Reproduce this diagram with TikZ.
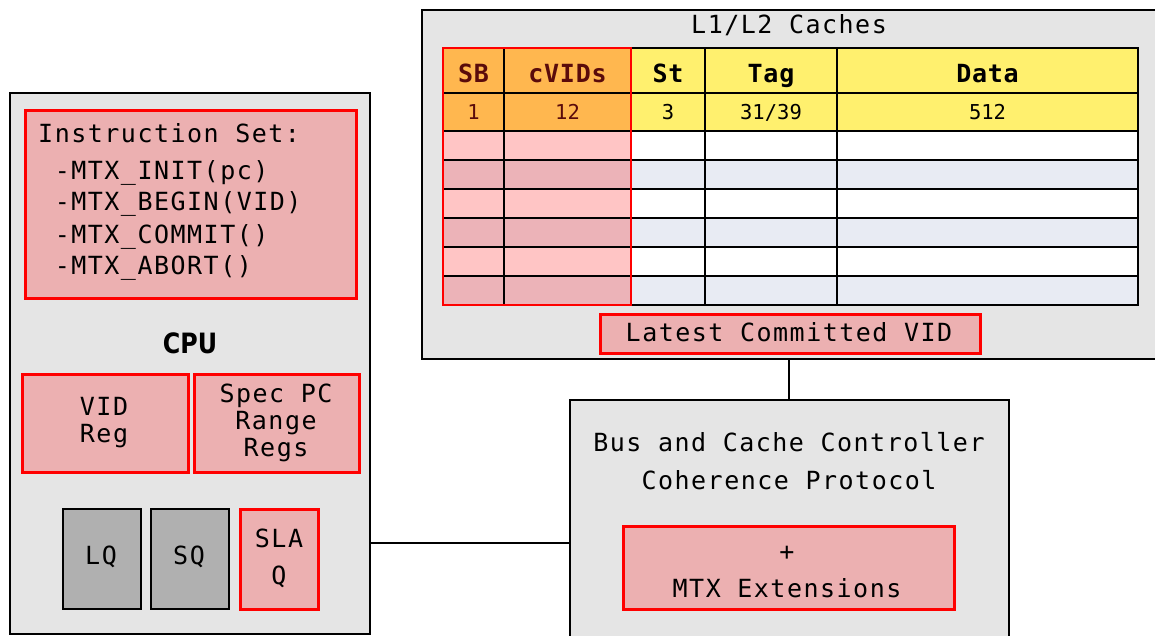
\documentclass[tikz,border=0pt]{standalone}
\usepackage{fontspec}
\newfontfamily\monof[LetterSpace=6]{DejaVu Sans Mono}
\newfontfamily\monobf[LetterSpace=3]{DejaVu Sans Mono}
\newfontfamily\numf{DejaVu Sans Mono}
\newfontfamily\cpuf[FakeStretch=0.85]{DejaVu Sans}
\definecolor{bggray}{HTML}{E5E5E5}
\definecolor{pinkbox}{HTML}{ECB0B1}
\definecolor{qgray}{HTML}{B0B0B0}
\definecolor{orangec}{HTML}{FFB74F}
\definecolor{yellowc}{HTML}{FFF06E}
\definecolor{pinkA}{HTML}{FFC5C5}
\definecolor{pinkB}{HTML}{ECB3B8}
\definecolor{blueRow}{HTML}{E8EBF3}
\definecolor{brownc}{HTML}{5A0B0B}
\definecolor{redc}{HTML}{FF0000}
\tikzset{
  panel/.style={draw=black, line width=2pt, fill=bggray, inner sep=0pt, anchor=north west},
  redbox/.style={draw=redc, line width=2.5pt, fill=pinkbox, inner sep=0pt, anchor=north west},
  qbox/.style={draw=black, line width=2pt, fill=qgray, inner sep=0pt, anchor=north west},
  lbl/.style={inner sep=0pt, anchor=base, font=\monof\fontsize{25}{30}\selectfont},
  lbll/.style={inner sep=0pt, anchor=base west, font=\monof\fontsize{25}{30}\selectfont},
  hdr/.style={inner sep=0pt, anchor=base, font=\monobf\bfseries\fontsize{25}{30}\selectfont},
  numl/.style={inner sep=0pt, anchor=base, font=\numf\fontsize{20.5}{24}\selectfont},
  gridline/.style={draw=black, line width=1.5pt},
  conn/.style={draw=black, line width=2pt},
}
\begin{document}
\begin{tikzpicture}[x=1pt,y=-1pt]
\clip (0,0) rectangle (1155,635);
\fill[white] (0,0) rectangle (1155,635);

% ---------- CPU ----------
\node[panel, minimum width=360pt, minimum height=541pt] (cpu) at (9,92) {};
\node[redbox, minimum width=331pt, minimum height=188pt] (iset) at (24,109) {};
\node[lbll] (is0) at (38,142) {Instruction Set:};
\node[lbll] (is1) at (38,179) {\ -MTX\_INIT(pc)};
\node[lbll] (is2) at (38,210) {\ -MTX\_BEGIN(VID)};
\node[lbll] (is3) at (38,243) {\ -MTX\_COMMIT()};
\node[lbll] (is4) at (38,274) {\ -MTX\_ABORT()};
\node[inner sep=0pt, anchor=base, font=\cpuf\bfseries\fontsize{28}{32}\selectfont] (cpulabel) at (190,353) {CPU};

\node[redbox, minimum width=166pt, minimum height=98pt] (vid) at (21,373) {};
\node[lbl] (vid1) at (104,415) {VID};
\node[lbl] (vid2) at (104,442) {Reg};
\node[redbox, minimum width=165pt, minimum height=98pt] (spec) at (193,373) {};
\node[lbl] (spec1) at (276,402) {Spec PC};
\node[lbl] (spec2) at (276,429) {Range};
\node[lbl] (spec3) at (276,456) {Regs};

\node[qbox, minimum width=78pt, minimum height=100pt] (lq) at (62,508) {};
\node[lbl] (lqt) at (101,564) {LQ};
\node[qbox, minimum width=78pt, minimum height=100pt] (sq) at (150,508) {};
\node[lbl] (sqt) at (189,564) {SQ};
\node[redbox, minimum width=78pt, minimum height=100pt] (sla) at (239,508) {};
\node[lbl] (sla1) at (279,547) {SLA};
\node[lbl] (sla2) at (279,584) {Q};

% ---------- Caches ----------
\node[panel, minimum width=749pt, minimum height=349pt] (caches) at (421,9) {};
\node[lbl] (ctitle) at (789,33) {L1/L2 Caches};

% table fills
\fill[orangec] (443,48) rectangle (631,131);
\fill[yellowc] (631,48) rectangle (1138,131);
\foreach \i in {0,2,4}{
  \fill[pinkA] (443,131+29*\i) rectangle (631,160+29*\i);
  \fill[white] (631,131+29*\i) rectangle (1138,160+29*\i);
  \fill[pinkB] (443,160+29*\i) rectangle (631,189+29*\i);
  \fill[blueRow] (631,160+29*\i) rectangle (1138,189+29*\i);
}
% grid
\foreach \x in {504,631,705,837}{ \draw[gridline] (\x,48) -- (\x,305); }
\foreach \y in {93,131,160,189,218,247,276}{ \draw[gridline] (443,\y) -- (1138,\y); }
\draw[draw=black, line width=2pt] (443,48) rectangle (1138,305);
\draw[draw=redc, line width=2.5pt] (443,48) rectangle (631,305);

\node[hdr, text=brownc] (hsb) at (473.5,82) {SB};
\node[hdr, text=brownc] (hcv) at (567.5,82) {cVIDs};
\node[hdr] (hst) at (668,82) {St};
\node[hdr] (htag) at (771,82) {Tag};
\node[hdr] (hdata) at (987.5,82) {Data};
\node[numl, text=brownc] (vsb) at (473.5,119) {1};
\node[numl, text=brownc] (vcv) at (567.5,119) {12};
\node[numl] (vst) at (668,119) {3};
\node[numl] (vtag) at (771,119) {31/39};
\node[numl] (vdata) at (987.5,119) {512};

\node[redbox, minimum width=380pt, minimum height=39pt] (lcv) at (599,313) {};
\node[lbl] (lcvt) at (789,341) {Latest Committed VID};

% ---------- Bus ----------
\node[panel, minimum width=439pt, minimum height=246pt] (bus) at (569,399) {};
\node[lbl] (bus1) at (789,451) {Bus and Cache Controller};
\node[lbl] (bus2) at (789,489) {Coherence Protocol};
\node[redbox, minimum width=331pt, minimum height=83pt] (mtx) at (622,525) {};
\node[lbl] (mtx1) at (787,560) {+};
\node[lbl] (mtx2) at (787,597) {MTX Extensions};

% ---------- connectors ----------
\coordinate (cy) at (0,543);
\draw[conn] (cpu.east |- cy) -- (bus.west |- cy);
\coordinate (vx) at (789,0);
\draw[conn] (vx |- caches.south) -- (vx |- bus.north);
\end{tikzpicture}
\end{document}
